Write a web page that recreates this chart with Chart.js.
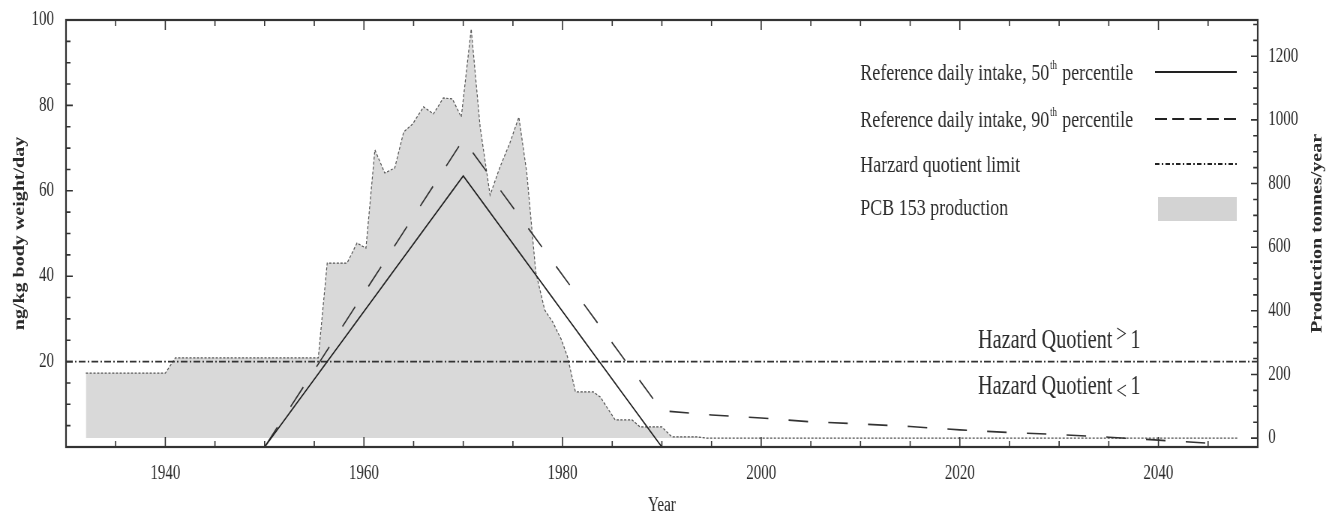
<!DOCTYPE html>
<html><head><meta charset="utf-8">
<script src="https://cdn.jsdelivr.net/npm/chart.js@4.4.1/dist/chart.umd.min.js"></script>
<style>
html,body{margin:0;padding:0;background:#fff;overflow:hidden;width:1331px;height:515px}
#c{display:block;transform:scaleX(0.75);transform-origin:0 0}
</style>
</head><body>
<canvas id="c" width="1775" height="515"></canvas>
<script>
// ---- data ----
const prodYears  = [1932,1940,1941,1955.4,1956.3,1958.3,1959.3,1960.2,1961.1,1962.1,1963.1,1964.0,1964.9,1966.0,1967.0,1968.0,1968.9,1969.8,1970.8,1971.7,1972.7,1973.7,1974.7,1975.6,1976.4,1977.3,1978.2,1979.0,1979.9,1980.5,1981.3,1983.1,1983.8,1985.3,1987.0,1987.8,1990.0,1991.0,1993.5,1994.5,2048];
const prodTonnes = [204,204,252,252,550,550,613,597,906,833,849,962,987,1041,1019,1069,1066,1009,1286,978,764,852,928,1009,833,522,403,365,308,255,145,145,129,57,57,35,35,4,4,0,0];
const p50Years  = [1930,1950,1970,1990,2047];
const p50Values = [0,0,63.5,0,0];
const p90Years  = [1950,1970,1990,1995,2000,2005,2010,2015,2020,2025,2030,2035,2040,2045];
const p90Values = [0,72,8.5,7.5,6.8,5.9,5.4,4.8,4.0,3.4,2.9,2.3,1.6,0.9];
const hqYears   = [1930,2050];
const hqValues  = [20,20];
const xTickYears = [1940,1960,1980,2000,2020,2040];
const leftTicks  = [20,40,60,80,100];
const rightTicks = [0,200,400,600,800,1000,1200];
const legendRows = [
  [{t:'Reference daily intake, 50'},{t:'th',sup:true},{t:' percentile'}],
  [{t:'Reference daily intake, 90'},{t:'th',sup:true},{t:' percentile'}],
  [{t:'Harzard quotient limit'}],
  [{t:'PCB 153 production'}]
];
const hqAbove = ['Hazard Quotient', '>', '1'];
const hqBelow = ['Hazard Quotient', '<', '1'];

const SERIF = '"Liberation Serif","Times New Roman",serif';
const INK = '#2a2a2a';
const pts = (xs, ys) => xs.map((x, i) => ({x, y: ys[i]}));

const frameTicks = {
  id: 'frameTicks',
  afterDatasetsDraw(chart) {
    const {ctx, chartArea: a, scales: {x, y, y2}} = chart;
    ctx.save();
    ctx.strokeStyle = '#333';
    ctx.lineWidth = 1.6;
    ctx.beginPath();
    for (let v = 1935; v < 2050; v += 5) {
      const px = x.getPixelForValue(v), L = v % 20 === 0 ? 10 : 6;
      ctx.moveTo(px, a.bottom); ctx.lineTo(px, a.bottom - L);
      ctx.moveTo(px, a.top); ctx.lineTo(px, a.top + L);
    }
    for (let v = 5; v < 100; v += 5) {
      const py = y.getPixelForValue(v), L = v % 20 === 0 ? 9 : 6;
      ctx.moveTo(a.left, py); ctx.lineTo(a.left + L, py);
    }
    for (let v = 0; v <= 1300; v += 50) {
      const py = y2.getPixelForValue(v), L = v % 200 === 0 ? 9 : 6;
      ctx.moveTo(a.right, py); ctx.lineTo(a.right - L, py);
    }
    ctx.stroke();
    ctx.lineWidth = 2.2;
    ctx.strokeRect(a.left, a.top, a.right - a.left, a.bottom - a.top);
    ctx.restore();
  },
  afterDraw(chart) {
    const {ctx, chartArea: a, scales: {y}} = chart;
    ctx.save();
    ctx.fillStyle = INK;
    ctx.textBaseline = 'alphabetic';
    // right axis title (reads bottom-to-top)
    ctx.save();
    ctx.translate(1757, (a.top + a.bottom) / 2);
    ctx.rotate(-Math.PI / 2);
    ctx.font = 'bold 20px ' + SERIF;
    ctx.textAlign = 'center';
    ctx.textBaseline = 'middle';
    ctx.fillText('Production tonnes/year', 0, 0);
    ctx.restore();

    // legend
    const rowsBase = [80, 127, 172, 215];
    const lineY = [72, 119, 164, 209];
    const tx = 1147, s1 = 1540, s2 = 1649;
    legendRows.forEach((parts, i) => {
      let cx = tx;
      parts.forEach(p => {
        if (p.sup) { ctx.font = '12px ' + SERIF; ctx.fillText(p.t, cx + 1, rowsBase[i] - 11); cx += ctx.measureText(p.t).width + 2; }
        else { ctx.font = '24px ' + SERIF; ctx.fillText(p.t, cx, rowsBase[i]); cx += ctx.measureText(p.t).width; }
      });
    });
    ctx.strokeStyle = '#222';
    ctx.lineWidth = 2;
    const dashes = [[], [16, 7], [6, 3, 2, 3]];
    dashes.forEach((d, i) => {
      ctx.setLineDash(d);
      ctx.beginPath(); ctx.moveTo(s1, lineY[i]); ctx.lineTo(s2, lineY[i]); ctx.stroke();
    });
    ctx.setLineDash([]);
    ctx.fillStyle = '#d3d3d3';
    ctx.fillRect(1544, 197, s2 - 1544, 24);
    ctx.fillStyle = INK;

    // hazard quotient annotations
    const yl = y.getPixelForValue(20);
    const drawHQ = (parts, base, shift) => {
      let cx = 1304;
      ctx.font = '27px ' + SERIF; ctx.fillText(parts[0], cx, base); cx += ctx.measureText(parts[0]).width + 5;
      ctx.font = '25px ' + SERIF; ctx.fillText(parts[1], cx, base + shift); cx += ctx.measureText(parts[1]).width + 5;
      ctx.font = '27px ' + SERIF; ctx.fillText(parts[2], cx, base);
    };
    drawHQ(hqAbove, yl - 14, -6);
    drawHQ(hqBelow, yl + 32, 5);
    ctx.restore();
  }
};

const tickFont = {family: SERIF, size: 20};
new Chart(document.getElementById('c'), {
  type: 'line',
  data: {
    datasets: [
      {label: 'Reference daily intake, 50th percentile', data: pts(p50Years, p50Values), yAxisID: 'y',
       borderColor: '#222', borderWidth: 1.6, pointRadius: 0, fill: false, order: 1},
      {label: 'Reference daily intake, 90th percentile', data: pts(p90Years, p90Values), yAxisID: 'y',
       borderColor: '#333', borderWidth: 1.6, borderDash: [26, 27], pointRadius: 0, fill: false, order: 2},
      {label: 'Harzard quotient limit', data: pts(hqYears, hqValues), yAxisID: 'y',
       borderColor: '#333', borderWidth: 1.6, borderDash: [9, 3, 2, 3], pointRadius: 0, fill: false, order: 3},
      {label: 'PCB 153 production', data: pts(prodYears, prodTonnes), yAxisID: 'y2',
       borderColor: '#555', borderWidth: 1.2, borderDash: [3, 2], pointRadius: 0,
       backgroundColor: '#d9d9d9', fill: {target: {value: 0}}, order: 10}
    ]
  },
  options: {
    responsive: false,
    devicePixelRatio: 1,
    animation: false,
    layout: {padding: {top: 20, left: 0, right: 0, bottom: 0}},
    plugins: {legend: {display: false}, tooltip: {enabled: false}},
    scales: {
      x: {
        type: 'linear', min: 1930, max: 2050,
        grid: {display: false}, border: {display: false},
        afterBuildTicks: s => { s.ticks = xTickYears.map(v => ({value: v})); },
        afterFit: s => { s.height = 68; },
        ticks: {font: tickFont, color: INK, padding: 7, maxRotation: 0, callback: v => String(v)},
        title: {display: true, text: 'Year', font: {family: SERIF, size: 20, lineHeight: 1}, color: INK, padding: {top: 0, bottom: -1}}
      },
      y: {
        position: 'left', min: 0, max: 100,
        grid: {display: false}, border: {display: false},
        afterBuildTicks: s => { s.ticks = leftTicks.map(v => ({value: v})); },
        afterFit: s => { s.width = 88; },
        ticks: {font: tickFont, color: INK, padding: 8, callback: v => String(v)},
        title: {display: true, text: 'ng/kg body weight/day', font: {family: SERIF, size: 20, weight: 'bold', lineHeight: 1.2}, color: INK, padding: {top: 15, bottom: 0}}
      },
      y2: {
        position: 'right', min: -28, max: 1314,
        grid: {display: false}, border: {display: false},
        afterBuildTicks: s => { s.ticks = rightTicks.map(v => ({value: v})); },
        afterFit: s => { s.width = 98; },
        ticks: {font: tickFont, color: INK, padding: 6, callback: v => String(v)}
      }
    }
  },
  plugins: [frameTicks]
});
</script>
</body></html>
